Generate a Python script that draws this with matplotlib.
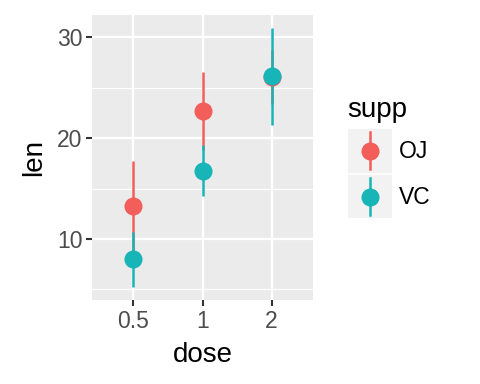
import numpy as np
import matplotlib.pyplot as plt
from matplotlib.patches import Rectangle

plt.rcParams['font.family'] = ['Liberation Sans', 'DejaVu Sans']

# data: mean +/- sd of len by supp and dose
doses = ['0.5', '1', '2']
supps = ['OJ', 'VC']
colors = {'OJ': '#F35E5B', 'VC': '#17B4B8'}
oj_mean = [13.23, 22.70, 26.06]
oj_lo = [8.77, 18.79, 23.40]
oj_hi = [17.69, 26.61, 28.72]
vc_mean = [7.98, 16.77, 26.14]
vc_lo = [5.23, 14.25, 21.34]
vc_hi = [10.73, 19.29, 30.94]

series = {'OJ': (oj_mean, oj_lo, oj_hi), 'VC': (vc_mean, vc_lo, vc_hi)}

W, H = 480, 384
fig = plt.figure(figsize=(W / 100, H / 100), dpi=100)
ax = fig.add_axes([92 / W, (H - 300) / H, 221 / W, 285 / H])
ax.set_facecolor('#EBEBEB')
for s in ax.spines.values():
    s.set_visible(False)

x = np.arange(len(doses))
# grid
for yv in [5, 15, 25]:
    ax.axhline(yv, color='white', lw=0.8, zorder=0)
for yv in [10, 20, 30]:
    ax.axhline(yv, color='white', lw=1.6, zorder=0)
for xv in x:
    ax.axvline(xv, color='white', lw=1.6, zorder=0)

# ranges first, then points
for s in supps:
    m, lo, hi = series[s]
    ax.vlines(x, lo, hi, color=colors[s], lw=1.8, zorder=2)
for s in supps:
    m, lo, hi = series[s]
    ax.plot(x, m, 'o', color=colors[s], ms=13, mec='none', zorder=3)

ax.set_xlim(-0.6, 2.6)
ax.set_ylim(3.94, 32.23)
ax.set_xticks(x)
ax.set_xticklabels(doses)
ax.set_yticks([10, 20, 30])
ax.tick_params(colors='#333333', labelcolor='#4D4D4D', labelsize=16.5,
               length=4, width=1.5, pad=3)
ax.set_xlabel('dose', fontsize=20, labelpad=7)
ax.set_ylabel('len', fontsize=20, labelpad=7)

# legend
fig.text(347 / W, 1 - 110 / H, 'supp', fontsize=20, va='center', ha='left')
lax = fig.add_axes([348 / W, (H - 218) / H, 44 / W, 90 / H])
lax.set_xlim(0, 44)
lax.set_ylim(90, 0)
lax.axis('off')
for i, s in enumerate(supps):
    y0 = i * 46
    lax.add_patch(Rectangle((0, y0 + 1), 44, 43, color='#F2F2F2'))
    lax.plot([22, 22], [y0 + 4, y0 + 41], color=colors[s], lw=1.8)
    lax.plot([22], [y0 + 22.5], 'o', color=colors[s], ms=13, mec='none')
    fig.text(399 / W, 1 - (152 + i * 45) / H, s, fontsize=16.5, va='center', ha='left')

fig.savefig('out.png', dpi=100)
